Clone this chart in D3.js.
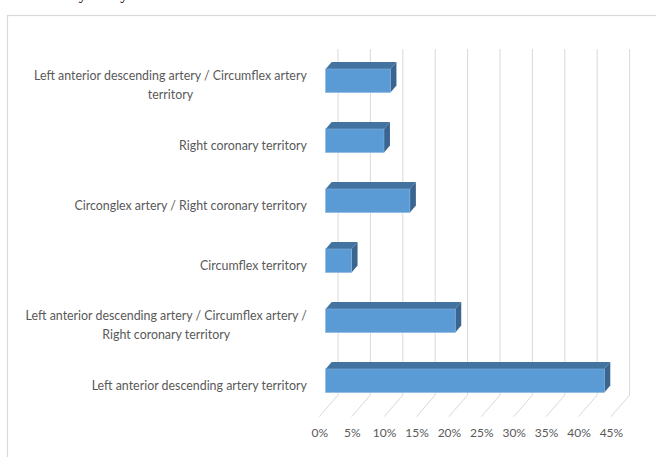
<!DOCTYPE html>
<html>
<head>
<meta charset="utf-8">
<script src="https://cdn.jsdelivr.net/npm/d3@7"></script>
<style>
  html, body { margin: 0; padding: 0; background: #ffffff; overflow: hidden; }
  svg { display: block; }
</style>
</head>
<body>
<svg id="chart" width="656" height="457"></svg>
<script>
// ---- data ----
const categories = [
  "Left anterior descending artery / Circumflex artery\nterritory",
  "Right coronary territory",
  "Circonglex artery / Right coronary territory",
  "Circumflex territory",
  "Left anterior descending artery / Circumflex artery /\nRight coronary territory",
  "Left anterior descending artery territory"
];
const values = [10, 9, 13, 4, 20, 43];
const xTicks = [0, 5, 10, 15, 20, 25, 30, 35, 40, 45];
const tickLabels = xTicks.map(d => d + "%");

// ---- layout ----
const svg = d3.select("#chart");
const W = 656, H = 457;

// chart frame (cropped at right/bottom)
svg.append("rect").attr("x", 7.5).attr("y", 15.5).attr("width", 700).attr("height", 500)
  .attr("fill", "#fff").attr("stroke", "#d9d9d9").attr("stroke-width", 1.2);

// cropped caption text from the page above the chart
svg.append("text").attr("x", 30).attr("y", -1.5)
  .attr("font-family", "Liberation Serif, serif").attr("font-size", 16).attr("fill", "#000")
  .text("coronary artery");

// 3D geometry: back wall and depth vector (back -> front)
const xBack = d3.scaleLinear().domain([0, 45]).range([338, 629.6]);
const depth = { dx: -18.7, dy: 21.7 };
const wallTop = 49, wallBottom = 395;
const barFront = 0.66, barBack = 0.34; // fraction of depth from back wall

const xAt = f => d3.scaleLinear().domain(xBack.domain())
  .range(xBack.range().map(r => r + depth.dx * f));
const xFront = xAt(1);
const xBarF = xAt(barFront);
const xBarB = xAt(barBack);

// y band in the bars' front plane
const y = d3.scaleBand().domain(categories).range([50.7, 410.7])
  .paddingInner(0.61).paddingOuter(0.305);
const dBar = { dx: depth.dx * (barBack - barFront), dy: depth.dy * (barBack - barFront) };

// back wall gridlines + floor gridlines
const grid = svg.append("g").attr("stroke", "#d9d9d9").attr("stroke-width", 1).attr("fill", "none");
grid.selectAll("path").data(xTicks).join("path")
  .attr("d", d => `M${xBack(d)},${wallTop}L${xBack(d)},${wallBottom}L${xFront(d)},${wallBottom + depth.dy}`);

// bars
const bars = svg.append("g").selectAll("g").data(categories).join("g");
bars.each(function (c, i) {
  const g = d3.select(this);
  const x0 = xBarF(0), x1 = xBarF(values[i]);
  const y0 = y(c), y1 = y(c) + y.bandwidth();
  const dx = dBar.dx, dy = dBar.dy;
  // top face
  g.append("path")
    .attr("d", `M${x0},${y0}L${x0 + dx},${y0 + dy}L${x1 + dx},${y0 + dy}L${x1},${y0}Z`)
    .attr("fill", "#43739f");
  // side face
  g.append("path")
    .attr("d", `M${x1},${y0}L${x1 + dx},${y0 + dy}L${x1 + dx},${y1 + dy}L${x1},${y1}Z`)
    .attr("fill", "#3a6590");
  // front face
  g.append("rect").attr("x", x0).attr("y", y0).attr("width", x1 - x0).attr("height", y1 - y0)
    .attr("fill", "#5b9bd5").attr("stroke", "#7fb0de").attr("stroke-width", 0.6);
});

// x axis tick labels along the front floor edge
const axisG = svg.append("g").attr("transform", `translate(0,${wallBottom + depth.dy})`)
  .call(d3.axisBottom(xFront).tickValues(xTicks).tickFormat((d, i) => tickLabels[i])
    .tickSize(0).tickPadding(12));
axisG.select(".domain").remove();
axisG.selectAll("text").attr("fill", "#595959")
  .attr("font-family", "Lato, 'Open Sans', sans-serif").attr("font-size", 12);

// category labels
const labelFont = "Lato, 'Open Sans', sans-serif";
const probe = svg.append("text").attr("font-family", labelFont).attr("font-size", 12.5)
  .text("Right coronary territory");
const squeeze = 128 / probe.node().getComputedTextLength();
probe.remove();

const labelRight = 307;
const lab = svg.append("g");
categories.forEach((c, i) => {
  const lines = c.split("\n");
  const cy = y(c) + y.bandwidth() / 2 + 4.5;
  const t = lab.append("text")
    .attr("font-family", labelFont).attr("font-size", 12.5).attr("fill", "#595959")
    .attr("text-anchor", "middle");
  lines.forEach((ln, j) => {
    t.append("tspan").attr("x", 0).attr("y", (j - (lines.length - 1) / 2) * 19)
      .attr("dy", "0.35em").text(ln);
  });
  const wMax = d3.max(t.selectAll("tspan").nodes(), n => n.getComputedTextLength());
  const cx = labelRight - wMax * squeeze / 2;
  t.attr("transform", `translate(${cx},${cy}) scale(${squeeze},1)`);
});
</script>
</body>
</html>
